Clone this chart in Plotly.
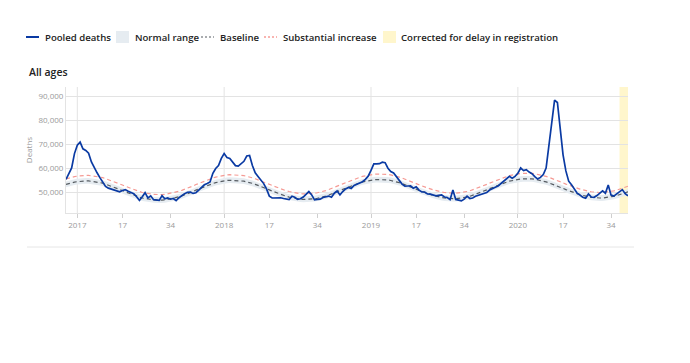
import plotly.graph_objects as go

# ---------------- data ----------------
start_year, start_week = 2016, 49
weeks_in_year = {2016: 52, 2017: 52, 2018: 52, 2019: 52, 2020: 53}
tick_weeks = [1, 17, 34]
corrected_from = (2020, 37)

pooled_deaths = [
    55300, 57500, 60000, 66000, 69500, 70800, 68000, 67300, 66200, 62500,
    60000, 58000, 56000, 54000, 52300, 51600, 51300, 50900, 50600, 50100,
    50600, 51000, 50300, 49800, 49300, 48000, 46500, 48000, 49700, 47500,
    48400, 46800, 46700, 46500, 48500, 47200, 47500, 47000, 47300, 46400,
    47600, 48500, 49300, 49900, 50000, 49400, 49700, 50800, 52000, 53000,
    53500, 54200, 57800, 59800, 61000, 64000, 66000, 64400, 64000, 62300,
    61000, 60800, 62000, 62800, 65000, 65200, 61000, 58000, 56500, 55000,
    53500, 51300, 48300, 47500, 47600, 47600, 47600, 47300, 47000, 46800,
    48200, 47800, 46900, 47200, 47900, 49000, 50200, 48800, 46700, 46900,
    47000, 47700, 48100, 48300, 47800, 49500, 50400, 48800, 50200, 51300,
    51900, 51500, 52700, 53200, 53600, 54300, 55300, 56600, 59000, 61700,
    61700, 61800, 62400, 62200, 59900, 58500, 57900, 56200, 54500, 53300,
    52400, 52500, 52600, 51600, 52200, 50800, 50000, 50000, 49200, 49100,
    48900, 48400, 48600, 48800, 47900, 47700, 46800, 50800, 46900, 46700,
    46300, 47000, 48300, 47300, 47500, 48200, 48600, 48900, 49300, 49800,
    50800, 51500, 52000, 52500, 53500, 54300, 55300, 56500, 55700, 56500,
    57800, 60000, 58900, 59300, 58300, 57600, 56400, 55400, 56100, 57300,
    60000, 69000, 79000, 88300, 87300, 75000, 65500, 58800, 54500, 53000,
    51200, 49500, 48700, 47800, 47400, 49200, 47900, 47800, 48500, 49600,
    50500, 49500, 52900, 48700, 48300, 49200, 50000, 51000, 49300, 48400,
]

baseline = [
    53200, 53600, 53900, 54100, 54300, 54500, 54600, 54600, 54600, 54500, 54300, 54100, 53900,
    53700, 53300, 52900, 52500, 52100, 51600, 51100, 50600, 50100, 49600, 49100, 48700, 48300, 47900, 47500, 47200,
    47100, 46900, 46700, 46600, 46600, 46600, 46700, 46900, 47100, 47300, 47600, 48000, 48400, 48800, 49200, 49700, 50200,
    50800, 51300, 51800, 52300, 52700, 53100, 53500, 53900, 54200, 54400, 54600, 54800, 54900, 54900, 54900, 54800, 54600,
    54500, 54300, 54000, 53600, 53200, 52800, 52400, 51900, 51400, 50900, 50400, 49900, 49400, 49000, 48600, 48200,
    47900, 47600, 47400, 47200, 47000, 46900, 46900, 46900, 47000, 47200, 47400, 47600, 47900, 48300, 48700, 49100, 49500,
    50100, 50600, 51100, 51600, 52100, 52600, 53000, 53400, 53800, 54200, 54500, 54700, 54900, 55100, 55200, 55200, 55200,
    55200, 55000, 54800, 54600, 54300, 53900, 53500, 53100, 52700, 52200, 51700, 51200, 50700, 50200, 49700, 49300,
    49000, 48600, 48200, 47900, 47700, 47500, 47300, 47200, 47200, 47200, 47300, 47500, 47700, 47900, 48200, 48600, 49000,
    49500, 49900, 50400, 50900, 51400, 51900, 52400, 52900, 53300, 53700, 54100, 54500, 54800, 55000, 55200, 55400, 55500,
    55600, 55600, 55500, 55300, 55100, 54900, 54600, 54200, 53800, 53400, 53000, 52500, 52000, 51500, 51000, 50500,
    50100, 49700, 49300, 48900, 48500, 48200, 48000, 47800, 47600, 47500, 47500, 47500, 47600, 47800, 48000, 48200, 48500,
    48900, 49300, 49700, 50100,
]

normal_lower = [
    52000, 52400, 52700, 52900, 53100, 53300, 53400, 53400, 53400, 53300, 53100, 52900, 52700,
    52500, 52100, 51700, 51300, 50900, 50400, 49900, 49400, 48900, 48400, 47900, 47500, 47100, 46700, 46300, 46000,
    45900, 45700, 45500, 45400, 45400, 45400, 45500, 45700, 45900, 46100, 46400, 46800, 47200, 47600, 48000, 48500, 49000,
    49600, 50100, 50600, 51100, 51500, 51900, 52300, 52700, 53000, 53200, 53400, 53600, 53700, 53700, 53700, 53600, 53400,
    53300, 53100, 52800, 52400, 52000, 51600, 51200, 50700, 50200, 49700, 49200, 48700, 48200, 47800, 47400, 47000,
    46700, 46400, 46200, 46000, 45800, 45700, 45700, 45700, 45800, 46000, 46200, 46400, 46700, 47100, 47500, 47900, 48300,
    48900, 49400, 49900, 50400, 50900, 51400, 51800, 52200, 52600, 53000, 53300, 53500, 53700, 53900, 54000, 54000, 54000,
    54000, 53800, 53600, 53400, 53100, 52700, 52300, 51900, 51500, 51000, 50500, 50000, 49500, 49000, 48500, 48100,
    47800, 47400, 47000, 46700, 46500, 46300, 46100, 46000, 46000, 46000, 46100, 46300, 46500, 46700, 47000, 47400, 47800,
    48300, 48700, 49200, 49700, 50200, 50700, 51200, 51700, 52100, 52500, 52900, 53300, 53600, 53800, 54000, 54200, 54300,
    54400, 54400, 54300, 54100, 53900, 53700, 53400, 53000, 52600, 52200, 51800, 51300, 50800, 50300, 49800, 49300,
    48900, 48500, 48100, 47700, 47300, 47000, 46800, 46600, 46400, 46300, 46300, 46300, 46400, 46600, 46800, 47000, 47300,
    47700, 48100, 48500, 48900,
]

normal_upper = [
    54400, 54800, 55100, 55300, 55500, 55700, 55800, 55800, 55800, 55700, 55500, 55300, 55100,
    54900, 54500, 54100, 53700, 53300, 52800, 52300, 51800, 51300, 50800, 50300, 49900, 49500, 49100, 48700, 48400,
    48300, 48100, 47900, 47800, 47800, 47800, 47900, 48100, 48300, 48500, 48800, 49200, 49600, 50000, 50400, 50900, 51400,
    52000, 52500, 53000, 53500, 53900, 54300, 54700, 55100, 55400, 55600, 55800, 56000, 56100, 56100, 56100, 56000, 55800,
    55700, 55500, 55200, 54800, 54400, 54000, 53600, 53100, 52600, 52100, 51600, 51100, 50600, 50200, 49800, 49400,
    49100, 48800, 48600, 48400, 48200, 48100, 48100, 48100, 48200, 48400, 48600, 48800, 49100, 49500, 49900, 50300, 50700,
    51300, 51800, 52300, 52800, 53300, 53800, 54200, 54600, 55000, 55400, 55700, 55900, 56100, 56300, 56400, 56400, 56400,
    56400, 56200, 56000, 55800, 55500, 55100, 54700, 54300, 53900, 53400, 52900, 52400, 51900, 51400, 50900, 50500,
    50200, 49800, 49400, 49100, 48900, 48700, 48500, 48400, 48400, 48400, 48500, 48700, 48900, 49100, 49400, 49800, 50200,
    50700, 51100, 51600, 52100, 52600, 53100, 53600, 54100, 54500, 54900, 55300, 55700, 56000, 56200, 56400, 56600, 56700,
    56800, 56800, 56700, 56500, 56300, 56100, 55800, 55400, 55000, 54600, 54200, 53700, 53200, 52700, 52200, 51700,
    51300, 50900, 50500, 50100, 49700, 49400, 49200, 49000, 48800, 48700, 48700, 48700, 48800, 49000, 49200, 49400, 49700,
    50100, 50500, 50900, 51300,
]

substantial_increase = [
    55500, 55900, 56200, 56400, 56600, 56800, 56900, 56900, 56900, 56800, 56600, 56400, 56200,
    56000, 55600, 55200, 54800, 54400, 53900, 53400, 52900, 52400, 51900, 51400, 51000, 50600, 50200, 49800, 49500,
    49400, 49200, 49000, 48900, 48900, 48900, 49000, 49200, 49400, 49600, 49900, 50300, 50700, 51100, 51500, 52000, 52500,
    53100, 53600, 54100, 54600, 55000, 55400, 55800, 56200, 56500, 56700, 56900, 57100, 57200, 57200, 57200, 57100, 56900,
    56800, 56600, 56300, 55900, 55500, 55100, 54700, 54200, 53700, 53200, 52700, 52200, 51700, 51300, 50900, 50500,
    50200, 49900, 49700, 49500, 49300, 49200, 49200, 49200, 49300, 49500, 49700, 49900, 50200, 50600, 51000, 51400, 51800,
    52400, 52900, 53400, 53900, 54400, 54900, 55300, 55700, 56100, 56500, 56800, 57000, 57200, 57400, 57500, 57500, 57500,
    57500, 57300, 57100, 56900, 56600, 56200, 55800, 55400, 55000, 54500, 54000, 53500, 53000, 52500, 52000, 51600,
    51300, 50900, 50500, 50200, 50000, 49800, 49600, 49500, 49500, 49500, 49600, 49800, 50000, 50200, 50500, 50900, 51300,
    51800, 52200, 52700, 53200, 53700, 54200, 54700, 55200, 55600, 56000, 56400, 56800, 57100, 57300, 57500, 57700, 57800,
    57900, 57900, 57800, 57600, 57400, 57200, 56900, 56500, 56100, 55700, 55300, 54800, 54300, 53800, 53300, 52800,
    52400, 52000, 51600, 51200, 50800, 50500, 50300, 50100, 49900, 49800, 49800, 49800, 49900, 50100, 50300, 50500, 50800,
    51200, 51600, 52000, 52400,
]

y_ticks = [50000, 60000, 70000, 80000, 90000]

legend_items = ["Pooled deaths", "Normal range", "Baseline",
                "Substantial increase", "Corrected for delay in registration"]
panel_title = "All ages"
y_title = "Deaths"

# ---------------- derived week structure ----------------
n = len(pooled_deaths)
weeks = []
yy, ww = start_year, start_week
for _ in range(n):
    weeks.append((yy, ww))
    ww += 1
    if ww > weeks_in_year[yy]:
        yy, ww = yy + 1, 1
x = list(range(n))
tick_vals = [i for i, (a, b) in enumerate(weeks) if b in tick_weeks]
tick_text = [str(weeks[i][0]) if weeks[i][1] == 1 else str(weeks[i][1]) for i in tick_vals]
year_starts = [i for i, (a, b) in enumerate(weeks) if b == 1]
corr_idx = weeks.index(corrected_from)

# ---------------- styles ----------------
BLUE = "#0a3aa3"
BAND = "#e6ecf1"
BASE = "#555b61"
RED = "#f59a94"
YELLOW = "#fff6cc"
GRID = "#e3e3e3"
TICK = "#9a9a9a"
FONT = "Open Sans"

OFF = 8  # page body offset
W, H = 690 - OFF, 363 - OFF
L, T = 66 - OFF, 87 - OFF
R = W - (628 - OFF)
B = H - (213 - OFF)
pw, ph = W - L - R, H - T - B


def px(xp):
    return (xp - OFF - L) / pw


def py(yp):
    return (H - B - (yp - OFF)) / ph


fig = go.Figure()
fig.add_trace(go.Scatter(x=x, y=normal_lower, mode="lines", line=dict(width=0),
                         hoverinfo="skip", showlegend=False))
fig.add_trace(go.Scatter(x=x, y=normal_upper, mode="lines", line=dict(width=0),
                         fill="tonexty", fillcolor=BAND, hoverinfo="skip", showlegend=False))
fig.add_trace(go.Scatter(x=x, y=baseline, mode="lines",
                         line=dict(color=BASE, width=1.2, dash="4px,3px"), showlegend=False))
fig.add_trace(go.Scatter(x=x, y=substantial_increase, mode="lines",
                         line=dict(color=RED, width=1.2, dash="4px,3px"), showlegend=False))
fig.add_trace(go.Scatter(x=x, y=pooled_deaths, mode="lines",
                         line=dict(color=BLUE, width=1.7), showlegend=False))

shapes = []
shapes.append(dict(type="rect", xref="x", yref="paper", x0=x[corr_idx], x1=x[-1],
                   y0=0, y1=1, fillcolor=YELLOW, line=dict(width=0), layer="below"))
for i in year_starts:
    shapes.append(dict(type="line", xref="x", yref="paper", x0=x[i], x1=x[i], y0=0, y1=1,
                       line=dict(color=GRID, width=1), layer="below"))
shapes.append(dict(type="line", xref="paper", yref="paper", x0=px(27), x1=px(634),
                   y0=py(247), y1=py(247), line=dict(color="#e6e6e6", width=1)))

# legend symbols
LY = 37
shapes.append(dict(type="line", xref="paper", yref="paper", x0=px(26), x1=px(39),
                   y0=py(LY), y1=py(LY), line=dict(color=BLUE, width=2)))
shapes.append(dict(type="rect", xref="paper", yref="paper", x0=px(116), x1=px(129),
                   y0=py(LY + 6), y1=py(LY - 6), fillcolor=BAND, line=dict(width=0)))
shapes.append(dict(type="line", xref="paper", yref="paper", x0=px(201), x1=px(214),
                   y0=py(LY), y1=py(LY), line=dict(color=BASE, width=1.2, dash="2px,2px")))
shapes.append(dict(type="line", xref="paper", yref="paper", x0=px(264), x1=px(277),
                   y0=py(LY), y1=py(LY), line=dict(color="#f26b63", width=1.2, dash="2px,2px")))
shapes.append(dict(type="rect", xref="paper", yref="paper", x0=px(383), x1=px(396),
                   y0=py(LY + 6), y1=py(LY - 6), fillcolor=YELLOW, line=dict(width=0)))

annotations = []
for label, xp in zip(legend_items, [43, 133, 218, 281, 399]):
    annotations.append(dict(text=label, xref="paper", yref="paper", x=px(xp), y=py(LY),
                            xanchor="left", yanchor="middle", showarrow=False,
                            font=dict(family=FONT, size=9.6, color="#222", weight=600)))
annotations.append(dict(text=panel_title, xref="paper", yref="paper", x=px(27), y=py(72),
                        xanchor="left", yanchor="middle", showarrow=False,
                        font=dict(family=FONT, size=10.5, color="#222", weight=600)))

fig.update_layout(
    width=W, height=H,
    margin=dict(l=L, r=R, t=T, b=B, pad=0),
    plot_bgcolor="white", paper_bgcolor="white",
    font=dict(family=FONT, color=TICK, size=8),
    showlegend=False,
    shapes=shapes, annotations=annotations,
    xaxis=dict(range=[x[0], x[-1]], tickvals=tick_vals, ticktext=tick_text,
               showgrid=False, zeroline=False, showline=True, linecolor=GRID,
               ticks="outside", ticklen=4, tickcolor="#cfcfcf",
               tickfont=dict(size=8, color=TICK)),
    yaxis=dict(range=[41250, 93750], tickvals=y_ticks, tickformat=",",
               showgrid=True, gridcolor=GRID, zeroline=False, showline=True,
               linecolor=GRID, ticks="", tickfont=dict(size=8, color=TICK),
               title=dict(text=y_title, font=dict(size=8, color=TICK), standoff=4)),
)

fig.write_html("out.html")
